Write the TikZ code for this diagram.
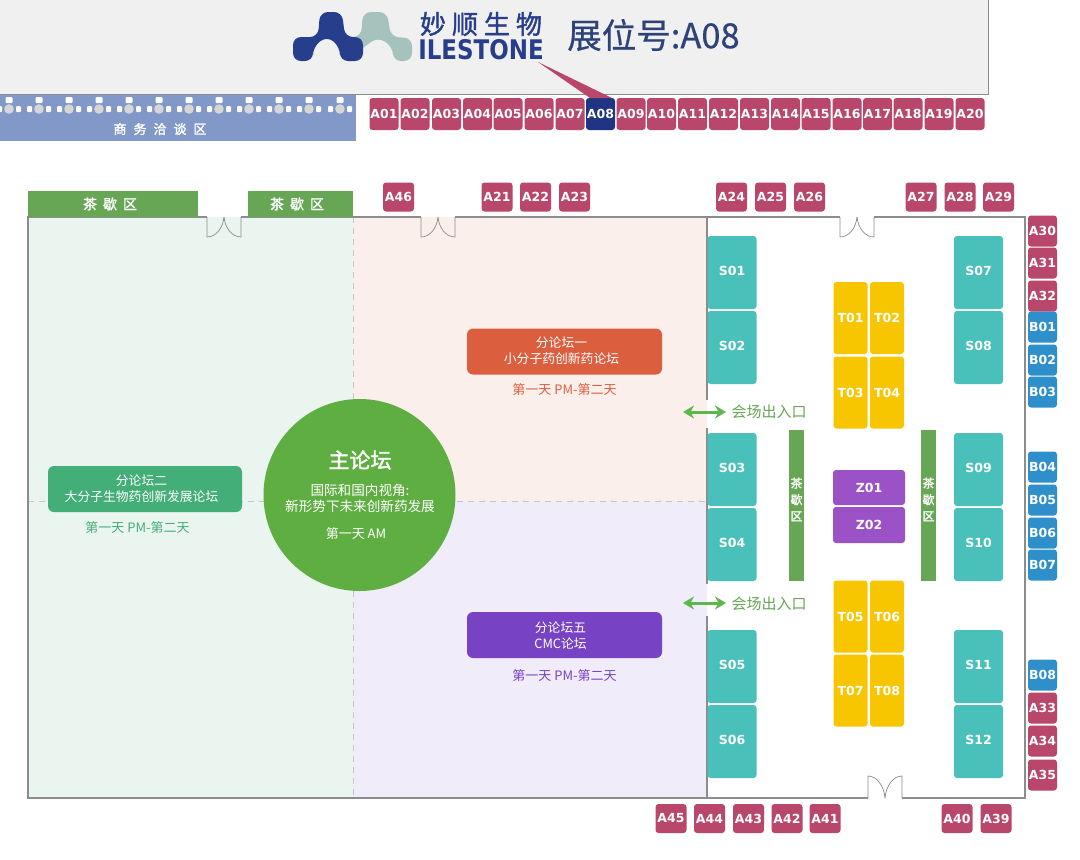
\documentclass[tikz,border=0pt]{standalone}
\usepackage{fontspec}
\setmainfont{DejaVu Sans}
\newfontfamily\cjk{Noto Sans CJK SC}
\newfontfamily\cjkmd[FakeBold=0.5]{Noto Sans CJK SC}
\newfontfamily\cjkbf[FakeBold=1.5]{Noto Sans CJK SC}
\usetikzlibrary{calc}
\usetikzlibrary{positioning}
\usetikzlibrary{arrows.meta}
\definecolor{boothred}{HTML}{B9466B}
\definecolor{boothblue}{HTML}{2F8FCB}
\definecolor{boothnavy}{HTML}{1F3584}
\definecolor{boothteal}{HTML}{49C1BA}
\definecolor{boothgold}{HTML}{F7C600}
\definecolor{boothpurple}{HTML}{9A52C6}
\definecolor{teagreen}{HTML}{67A655}
\definecolor{wallgray}{HTML}{8C8C8C}
\definecolor{logomint}{HTML}{A5C3BC}
\definecolor{logonavy}{HTML}{273E8C}
\definecolor{mainnavy}{HTML}{2C4278}
\definecolor{loungeblue}{HTML}{8298C8}
\definecolor{zonegreen}{HTML}{EBF5F0}
\definecolor{zonered}{HTML}{FBEFEC}
\definecolor{zonepurple}{HTML}{F1ECF9}
\definecolor{forumred}{HTML}{DB5F3F}
\definecolor{forumpurple}{HTML}{7743C4}
\definecolor{forumgreen}{HTML}{43AE78}
\definecolor{forummain}{HTML}{5FAE42}
\definecolor{exitgreen}{HTML}{5DB84B}
\tikzset{
    booth/.style={draw=none,rounded corners=3pt,text=white,inner sep=0pt,align=center,font=\bfseries\fontsize{12.5}{12.5}\selectfont},
    wall/.style={draw=wallgray,line width=1.2pt},
    door/.style={draw=wallgray,line width=0.7pt},
    zoneline/.style={draw=black!22,line width=0.9pt,dash pattern=on 6pt off 5pt},
    forumbox/.style={rounded corners=6pt,minimum width=195pt,minimum height=46pt,inner sep=0pt},
    forumtext/.style={text=white,inner sep=0pt,align=center,font=\cjk\fontsize{12.8}{16}\selectfont},
    forumtime/.style={inner sep=0pt,font=\cjk\fontsize{13}{13}\selectfont},
    teazone/.style={text=white,inner sep=0pt,align=center,font=\cjkbf\fontsize{14}{14}\selectfont},
    teaword/.style={text=white,inner sep=0pt,align=center,font=\cjkbf\fontsize{12}{16.5}\selectfont},
    exitlabel/.style={text=teagreen,inner sep=0pt,font=\cjk\fontsize{15}{15}\selectfont},
    exitarrow/.style={exitgreen,line width=3pt,{Stealth[length=11pt,width=13pt]}-{Stealth[length=11pt,width=13pt]}},
}
\begin{document}
\begin{tikzpicture}[x=1pt,y=-1pt]
    \useasboundingbox (0,0) rectangle (1080,860);
    \fill[white] (0,0) rectangle (1080,860);
    % header band
    \draw[fill=black!6,draw=black!45,line width=0.8pt] (-2,-2) rectangle (988,94);
    % logo
    \fill[logomint,rounded corners=8pt] (340,37) -- (361,37) -- (363,12) -- (387,12) -- (391,37) -- (412,38) -- (412,61) -- (393,61) -- (393,47) -- (378,37) -- (364,47) -- (350,58) -- cycle;
    \fill[logonavy,rounded corners=8pt] (293,61) -- (293,37) -- (318,37) -- (320,12) -- (342,12) -- (345,37) -- (363,37) -- (363,61) -- (340,61) -- (340,47) -- (327,36) -- (313,47) -- (313,61) -- cycle;
    \node[inner sep=0pt,text=logonavy,font=\cjkbf\fontsize{26}{26}\selectfont] (logocn) at (481,24) {妙\hspace{6pt}顺\hspace{6pt}生\hspace{6pt}物};
    \node[inner sep=0pt,text=logonavy,font=\bfseries\fontsize{27}{27}\selectfont,xscale=0.85] (logoen) at (481,50) {ILESTONE};
    \node[inner sep=0pt,text=mainnavy,font=\cjkmd\fontsize{34.5}{34.5}\selectfont] (standno) at (653.5,35) {展位号:A08};
    % lounge
    \fill[loungeblue] (-2,94.5) rectangle (356,141);
    \foreach \sx in {9,39,69,99,129,159,189,219,249,279,309,340}{
        \fill[black!16] (\sx,109) circle (4.8pt);
        \fill[white,rounded corners=1pt] (\sx-3.5,97) rectangle (\sx+3.5,103);
        \fill[white,rounded corners=1pt] (\sx-12,106) rectangle (\sx-7,112);
        \fill[white,rounded corners=1pt] (\sx+7,106) rectangle (\sx+12,112);
    }
    \node[inner sep=0pt,text=white,font=\cjkbf\fontsize{13}{13}\selectfont] (lounge) at (160,129) {商\hspace{7pt}务\hspace{7pt}洽\hspace{7pt}谈\hspace{7pt}区};
    % zones
    \fill[zonegreen] (28,217) rectangle (353,798);
    \fill[zonered] (353,217) rectangle (707,501);
    \fill[zonepurple] (353,501) rectangle (707,798);
    \draw[zoneline] (353,217) -- (353,798);
    \draw[zoneline] (28,501) -- (707,501);
    % walls
    \draw[wall] (207,217) -- (28,217) -- (28,798) -- (868,798);
    \draw[wall] (902,798) -- (1025,798) -- (1025,217) -- (874,217);
    \draw[wall] (840,217) -- (455,217);
    \draw[wall] (421,217) -- (241,217);
    \draw[wall] (707,217) -- (707,400);
    \draw[wall] (707,428) -- (707,584);
    \draw[wall] (707,616) -- (707,798);
    % doors
    \foreach \dx in {207,421,840}{
        \draw[door] (\dx,217) -- (\dx,237) .. controls (\dx+9,237) and (\dx+16,228) .. (\dx+17,217);
        \draw[door] (\dx+34,217) -- (\dx+34,237) .. controls (\dx+25,237) and (\dx+18,228) .. (\dx+17,217);
    }
    \draw[door] (868,798) -- (868,776) .. controls (877,776) and (884,786) .. (885,798);
    \draw[door] (902,798) -- (902,776) .. controls (893,776) and (886,786) .. (885,798);
    % tea breaks
    \fill[teagreen] (28,191) rectangle (198,217);
    \fill[teagreen] (248,191) rectangle (353,217);
    \node[teazone] (teaone) at (110,204) {茶\hspace{6pt}歇\hspace{6pt}区};
    \node[teazone] (teatwo) at (297,204) {茶\hspace{6pt}歇\hspace{6pt}区};
    \fill[teagreen] (789,430) rectangle (804,581);
    \fill[teagreen] (921,430) rectangle (936,581);
    \node[teaword] (teathree) at (796.5,499.5) {茶\\歇\\区};
    \node[teaword] (teafour) at (928.5,499.5) {茶\\歇\\区};
    % top row
    \foreach \n/\bx in {01/384,02/415,03/446.5,04/477.5,05/508,06/539,07/570,09/631,10/661.5,11/692.5,12/723.5,13/754.5,14/785.5,15/816,16/847,17/877.5,18/908,19/939,20/970}{
        \node[booth,fill=boothred,minimum width=29pt,minimum height=32pt] (A\n) at (\bx,114) {A\n};
    }
    \node[booth,fill=boothnavy,minimum width=29pt,minimum height=32pt] (A08) at (600.5,114) {A08};
    \fill[boothred] (538,62) -- (590,98) -- (612,98) -- cycle;
    % booths above room
    \foreach \n/\bx in {46/398.5,21/497,22/535.5,23/574.5,24/731.5,25/770.5,26/809.5,27/921,28/960,29/998.5}{
        \node[booth,fill=boothred,minimum width=31pt,minimum height=29pt] (A\n) at (\bx,197) {A\n};
    }
    % booths below room
    \foreach \n/\bx in {45/671,44/709.5,43/748.5,42/787,41/825,40/957,39/996}{
        \node[booth,fill=boothred,minimum width=31pt,minimum height=29pt] (A\n) at (\bx,818.5) {A\n};
    }
    % booths right of room
    \foreach \n/\by in {A30/231,A31/263,A32/296}{
        \node[booth,fill=boothred,minimum width=29pt,minimum height=31pt] (\n) at (1042.5,\by) {\n};
    }
    \foreach \n/\by in {B01/327,B02/360,B03/392,B04/467,B05/500,B06/533,B07/565,B08/675}{
        \node[booth,fill=boothblue,minimum width=29pt,minimum height=31pt] (\n) at (1042.5,\by) {\n};
    }
    \foreach \n/\by in {A33/708,A34/741,A35/775}{
        \node[booth,fill=boothred,minimum width=29pt,minimum height=31pt] (\n) at (1042.5,\by) {\n};
    }
    % S booths
    \foreach \n/\bx/\by in {01/732/272.5,02/732/347.5,03/732/469.5,04/732/544.5,05/732/666.5,06/732/741.5,07/978.5/272.5,08/978.5/347.5,09/978.5/469.5,10/978.5/544.5,11/978.5/666.5,12/978.5/741.5}{
        \node[booth,fill=boothteal,minimum width=49pt,minimum height=73pt] (S\n) at (\bx,\by) {\raisebox{3pt}{S\n}};
    }
    % T booths
    \foreach \n/\bx/\by in {01/850.5/318,02/887/318,03/850.5/392.5,04/887/392.5,05/850.5/616.5,06/887/616.5,07/850.5/690.5,08/887/690.5}{
        \node[booth,fill=boothgold,minimum width=34pt,minimum height=72pt] (T\n) at (\bx,\by) {T\n};
    }
    % Z booths
    \node[booth,fill=boothpurple,minimum width=72pt,minimum height=35pt] (Z01) at (869,487.5) {Z01};
    \node[booth,fill=boothpurple,minimum width=72pt,minimum height=36pt] (Z02) at (869,525) {Z02};
    % exits
    \coordinate (exitoneL) at (683,412);
    \coordinate (exitoneR) at (726,412);
    \coordinate (exittwoL) at (683,603);
    \coordinate (exittwoR) at (726,603);
    \draw[exitarrow] (exitoneL) -- (exitoneR);
    \draw[exitarrow] (exittwoL) -- (exittwoR);
    \node[exitlabel] (exitone) at (769,412) {会场出入口};
    \node[exitlabel] (exittwo) at (769,604) {会场出入口};
    % forums
    \node[forumbox,fill=forumred] (forumone) at (564.5,351.5) {};
    \node[forumtext] (forumonetext) at (561.5,351) {分论坛一\\小分子药创新药论坛};
    \node[forumtime,text=forumred] (forumonetime) at (564.5,390) {第一天 PM-第二天};
    \node[forumbox,fill=forumpurple] (forumfive) at (564.5,635) {};
    \node[forumtext] (forumfivetext) at (560.5,636) {分论坛五\\CMC论坛};
    \node[forumtime,text=forumpurple] (forumfivetime) at (564.5,676) {第一天 PM-第二天};
    \node[forumbox,fill=forumgreen,minimum width=194pt] (forumtwo) at (145,489) {};
    \node[forumtext] (forumtwotext) at (141.5,489) {分论坛二\\大分子生物药创新发展论坛};
    \node[forumtime,text=forumgreen] (forumtwotime) at (137.5,528) {第一天 PM-第二天};
    % main forum
    \node[circle,fill=forummain,minimum size=192pt,inner sep=0pt] (mainforum) at (359.5,495) {};
    \node[inner sep=0pt,text=white,font=\cjkbf\fontsize{21}{21}\selectfont] (maintitle) at (360,460) {主论坛};
    \node[inner sep=0pt,text=white,align=center,font=\cjk\fontsize{13.6}{16}\selectfont] (mainsub) at (360,498) {国际和国内视角:\\新形势下未来创新药发展};
    \node[inner sep=0pt,text=white,font=\cjk\fontsize{13}{13}\selectfont] (maintime) at (356,534) {第一天 AM};
\end{tikzpicture}
\end{document}
